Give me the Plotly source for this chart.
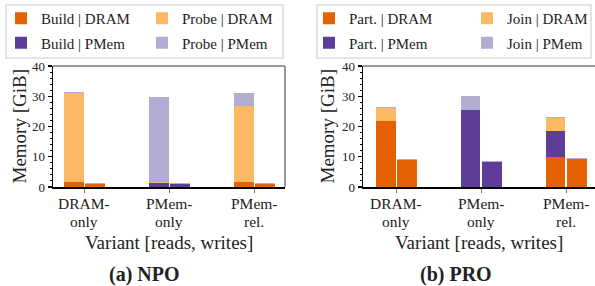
import plotly.graph_objects as go

W, H = 595, 286
FONT = "Liberation Serif"

categories = ["DRAM-only", "PMem-only", "PMem-rel."]
tick_line1 = ["DRAM-", "PMem-", "PMem-"]
tick_line2 = ["only", "only", "rel."]
bar_offsets = [-0.125, 0.125]  # reads bar, writes bar within each variant

# order per list: [DRAM-only reads, DRAM-only writes, PMem-only reads, PMem-only writes, PMem-rel reads, PMem-rel writes]
npo_build_dram = [1.5, 1.1, 0.0, 0.0, 1.5, 1.1]
npo_build_pmem = [0.0, 0.0, 1.4, 1.1, 0.0, 0.0]
npo_probe_dram = [29.7, 0.0, 0.3, 0.0, 25.3, 0.0]
npo_probe_pmem = [0.3, 0.3, 28.0, 0.3, 4.3, 0.3]

pro_part_dram = [21.9, 9.0, 0.0, 0.0, 9.9, 9.3]
pro_part_pmem = [0.0, 0.0, 25.5, 8.3, 8.6, 0.0]
pro_join_dram = [4.2, 0.0, 0.0, 0.0, 4.2, 0.0]
pro_join_pmem = [0.3, 0.3, 4.6, 0.3, 0.3, 0.3]

y_ticks = [0, 10, 20, 30, 40]

C_DRAM_A = "#e66101"
C_DRAM_B = "#fdb863"
C_PMEM_A = "#5e3c99"
C_PMEM_B = "#b2abd2"

xpos = [i + o for i in range(len(categories)) for o in bar_offsets]
BW = 0.235


def X(px):
    return px / W


def Y(py):
    return 1 - py / H


fig = go.Figure()

series = [
    ("Build | DRAM", npo_build_dram, C_DRAM_A, "x", "y", "legend"),
    ("Build | PMem", npo_build_pmem, C_PMEM_A, "x", "y", "legend"),
    ("Probe | DRAM", npo_probe_dram, C_DRAM_B, "x", "y", "legend2"),
    ("Probe | PMem", npo_probe_pmem, C_PMEM_B, "x", "y", "legend2"),
    ("Part. | DRAM", pro_part_dram, C_DRAM_A, "x2", "y2", "legend3"),
    ("Part. | PMem", pro_part_pmem, C_PMEM_A, "x2", "y2", "legend3"),
    ("Join | DRAM", pro_join_dram, C_DRAM_B, "x2", "y2", "legend4"),
    ("Join | PMem", pro_join_pmem, C_PMEM_B, "x2", "y2", "legend4"),
]
for name, vals, col, xa, ya, lg in series:
    fig.add_trace(go.Bar(
        x=xpos, y=vals, width=BW, name=name, xaxis=xa, yaxis=ya,
        marker=dict(color=col, line=dict(width=0)),
        legend=lg, legendgroup=name, hoverinfo="skip",
    ))

left_dom = [X(53), X(285)]
right_dom = [X(363), 1.0]
y_dom = [Y(187), Y(66)]

xcommon = dict(
    tickmode="array", tickvals=list(range(len(categories))), ticktext=[""] * len(categories),
    ticks="outside", ticklen=4, tickwidth=1.2, tickcolor="#777",
    showline=True, linecolor="black", linewidth=1.5, showgrid=False, zeroline=False,
    tickfont=dict(family=FONT, size=15.5, color="#222"),
)
ycommon = dict(
    range=[0, 40], tickmode="array", tickvals=y_ticks,
    ticks="outside", ticklen=4, tickwidth=1.2, tickcolor="black",
    minor=dict(dtick=2, ticks="outside", ticklen=2, tickwidth=1, tickcolor="black", showgrid=False),
    showline=True, linecolor="black", linewidth=1.5, showgrid=False, zeroline=False,
    tickfont=dict(family=FONT, size=13, color="#222"),
)

fig.update_layout(
    width=W, height=H,
    margin=dict(l=0, r=0, t=0, b=0, autoexpand=False),
    paper_bgcolor="white", plot_bgcolor="white",
    barmode="stack", bargap=0, hovermode=False,
    xaxis=dict(domain=left_dom, range=[-0.37, 2.36], anchor="y", **xcommon),
    yaxis=dict(domain=y_dom, anchor="x", **ycommon),
    xaxis2=dict(domain=right_dom, range=[-0.39, 2.34], anchor="y2", **xcommon),
    yaxis2=dict(domain=y_dom, anchor="x2", **ycommon),
    showlegend=True,
)

leg_common = dict(
    orientation="v", xanchor="left", yanchor="top", bgcolor="rgba(0,0,0,0)",
    borderwidth=0, font=dict(family=FONT, size=15, color="#222"),
    tracegroupgap=2, itemclick=False, itemdoubleclick=False,
)
fig.update_layout(
    legend=dict(x=X(1), y=Y(2), **leg_common),
    legend2=dict(x=X(142), y=Y(2), **leg_common),
    legend3=dict(x=X(309), y=Y(2), **leg_common),
    legend4=dict(x=X(467), y=Y(2), **leg_common),
)

shapes = []
# legend frames
for x0, x1 in [(6, 283), (317, 591)]:
    shapes.append(dict(type="rect", xref="paper", yref="paper", x0=X(x0), x1=X(x1), y0=Y(58), y1=Y(5),
                       line=dict(color="#dcdcdc", width=1.5), fillcolor="rgba(0,0,0,0)", layer="below"))
# top / right spines in grey
shapes.append(dict(type="line", xref="x domain", yref="y domain", x0=0, x1=1, y0=1, y1=1,
                   line=dict(color="#777", width=1.5)))
shapes.append(dict(type="line", xref="x domain", yref="y domain", x0=1, x1=1, y0=0, y1=1,
                   line=dict(color="#777", width=1.5)))
shapes.append(dict(type="line", xref="x2 domain", yref="y2 domain", x0=0, x1=1, y0=1, y1=1,
                   line=dict(color="#777", width=1.5)))
fig.update_layout(shapes=shapes)

ann = []
# two-line category labels under each tick
for xa in ("x", "x2"):
    for i in range(len(categories)):
        for txt, py in ((tick_line1[i], 203), (tick_line2[i], 221)):
            ann.append(dict(text=txt, x=i, y=Y(py), xref=xa, yref="paper", showarrow=False,
                            xanchor="center", yanchor="middle",
                            font=dict(family=FONT, size=15.5, color="#222")))
for cx in (19, 327):
    ann.append(dict(text="Memory [GiB]", x=X(cx), y=Y(126.5), xref="paper", yref="paper",
                    textangle=-90, showarrow=False, xanchor="center", yanchor="middle",
                    font=dict(family=FONT, size=19, color="#222")))
for cx in (169, 479):
    ann.append(dict(text="Variant [reads, writes]", x=X(cx), y=Y(242), xref="paper", yref="paper",
                    showarrow=False, xanchor="center", yanchor="middle",
                    font=dict(family=FONT, size=19, color="#222")))
for cx, t in ((144, "<b>(a) NPO</b>"), (456, "<b>(b) PRO</b>")):
    ann.append(dict(text=t, x=X(cx), y=Y(274), xref="paper", yref="paper",
                    showarrow=False, xanchor="center", yanchor="middle",
                    font=dict(family=FONT, size=20, color="#222")))
fig.update_layout(annotations=ann)

fig.write_html("out.html", config={"displayModeBar": False, "staticPlot": True},
               post_script="document.body.style.margin='0';document.body.style.overflow='hidden';")
